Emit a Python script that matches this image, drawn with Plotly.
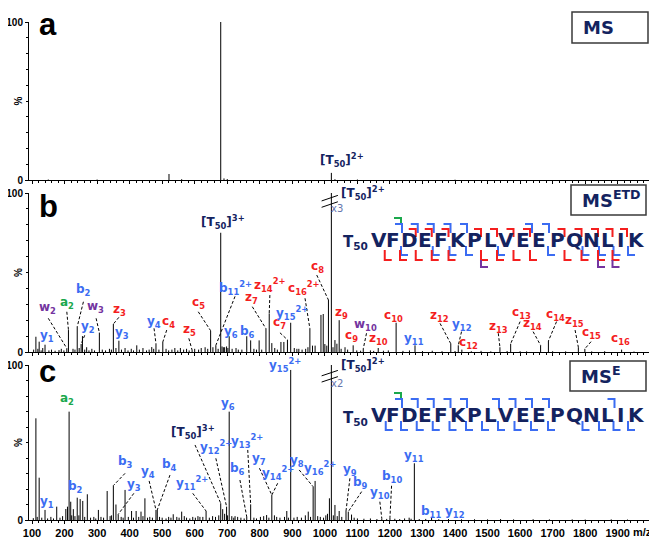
import plotly.graph_objects as go

# ================= DATA =================
# panel a (MS)
a_mz = [150, 300, 521, 560, 680, 690, 700, 1020, 1031, 1100, 1400]
a_int = [0.3, 0.3, 3.8, 0.5, 100, 1.0, 0.6, 4.5, 0.5, 0.3, 0.2]

# panel b (MS-ETD)
b_mz = [112, 122, 140, 207, 212, 239, 251, 255, 268, 307, 350, 367, 386, 422, 468, 481, 502, 539, 575, 592,
        632, 649, 665, 680, 688, 698, 706, 727, 760, 772, 798, 819, 829, 837, 865, 874, 885, 895, 914, 954,
        962, 970, 988, 995, 1011, 1020, 1031, 1037, 1044, 1062, 1087, 1118, 1164, 1219, 1277, 1387, 1410, 1421, 1538, 1571,
        1663, 1687, 1779, 1799, 1912]
b_int = [9.6, 6.5, 4.6, 2.3, 13.8, 15.9, 5, 10, 3, 12.2, 17.6, 7.1, 2.5, 4.2, 3.1, 5.2, 6.3, 2.5, 2, 1.2,
         3, 13.4, 4.2, 75, 3, 3.5, 9.9, 2.5, 9.9, 7.3, 7.3, 14.7, 24.3, 5.6, 6.3, 6.3, 7.7, 18.4, 2, 14.7,
         4, 4, 23.3, 23.9, 32.7, 100, 7.5, 5.2, 20, 3, 4.2, 2, 2.5, 18.4, 4.2, 5.2, 4.2, 1.5, 3, 5.2,
         4.2, 6.9, 3, 2, 1.5]
b_noise_mz = [105, 118, 128, 133, 152, 160, 171, 183, 190, 198, 226, 232, 245, 262, 275, 284, 292, 316, 326, 338,
              344, 358, 375, 395, 405, 412, 430, 441, 452, 460, 474, 490, 512, 520, 530, 548, 556, 566, 583, 600,
              612, 620, 640, 656, 672, 684, 692, 702, 715, 734, 745, 782, 790, 806, 846, 854, 906, 920, 930, 941,
              948, 1000, 1006, 1025, 1050, 1070, 1098, 1110, 1140, 1150, 1180, 1195, 1240, 1260, 1300, 1330, 1360, 1400, 1450, 1480,
              1510, 1560, 1600, 1620, 1700, 1740, 1820, 1860, 1950]
b_noise_int = [1.5, 2, 1, 2.5, 1, 1.5, 0.8, 1.2, 2, 1, 2, 1.5, 2.5, 1.5, 1, 2, 1, 1.5, 1, 2,
               1.5, 2.5, 1.5, 1, 2, 1, 1.5, 2.5, 1, 1.5, 2, 1.5, 2, 1, 1.5, 1, 2.5, 1.5, 1, 2,
               1.5, 2.5, 2, 3, 2, 3.5, 3, 2.5, 2, 1.5, 1.5, 2, 1.5, 1.5, 2.5, 1.5, 2.5, 2, 1.5, 2,
               3, 5, 4, 3, 2, 1.5, 1, 0.8, 1, 0.7, 0.8, 1, 0.7, 1, 0.6, 0.8, 0.5, 0.6, 0.5, 0.7,
               0.4, 0.6, 0.5, 0.4, 0.5, 0.4, 0.4, 0.5, 0.3]

# panel c (MS-E)
c_mz = [112, 122, 140, 176, 204, 209, 214, 219, 227, 239, 248, 256, 270, 304, 331, 350, 358, 365, 386, 406,
        420, 435, 447, 481, 485, 534, 560, 616, 635, 680, 686, 698, 706, 714, 724, 760, 772, 821, 837, 883,
        895, 949, 964, 970, 1014, 1020, 1031, 1044, 1065, 1072, 1082, 1175, 1200, 1259, 1275, 1328]
c_int = [65.6, 27.3, 6.5, 8.6, 7.1, 8.6, 69.9, 11.8, 7, 14.4, 13.5, 12.3, 16.6, 6.5, 18.7, 22.2, 10, 3.7, 19.4, 5.8,
         5.8, 5.4, 14, 6.5, 6.5, 3.7, 5.4, 2, 5.8, 10.8, 7, 8.6, 69.9, 2.5, 2.5, 2, 10.1, 3.2, 16.1, 5.8,
         96.8, 5.4, 21.5, 25.2, 14, 100, 9.7, 5.8, 5.8, 5.4, 3.5, 1, 1.5, 1.5, 36.6, 2]
c_noise_mz = [104, 116, 130, 148, 158, 166, 186, 194, 222, 232, 244, 262, 280, 290, 296, 312, 320, 340, 344, 374,
              380, 396, 412, 428, 441, 455, 462, 470, 492, 500, 512, 520, 527, 545, 552, 568, 575, 585, 594, 602,
              610, 625, 645, 655, 664, 674, 692, 701, 720, 732, 742, 752, 782, 790, 802, 812, 828, 845, 852, 862,
              876, 888, 905, 915, 928, 940, 956, 978, 986, 996, 1003, 1008, 1026, 1038, 1052, 1090, 1100, 1120, 1140, 1160,
              1190, 1215, 1230, 1245, 1265, 1290, 1310, 1350, 1380, 1420, 1460, 1500, 1540, 1580, 1640, 1690, 1760, 1800, 1880, 1930]
c_noise_int = [1.2, 2, 1.5, 1, 2, 1, 1.5, 2.5, 3, 2.5, 3, 2, 1.5, 2, 1, 2, 1.5, 2.5, 3, 2,
               1.5, 2, 1.5, 2, 2.5, 1.5, 2, 1.5, 2, 1.5, 1, 2, 1.5, 2, 1.5, 2.5, 1.5, 1, 2, 1.5,
               2.5, 2, 1.5, 2.5, 2, 3, 4, 3, 1.5, 2, 1.5, 1, 1.5, 1, 2, 2.5, 1.5, 3, 2, 1.5,
               2, 1.5, 1.5, 2, 1.5, 3, 2, 2.5, 2, 1.5, 3, 4, 3, 2.5, 2, 1.5, 1, 0.8, 1, 0.6,
               0.7, 0.8, 0.6, 1, 0.8, 0.6, 0.7, 0.5, 0.6, 0.4, 0.5, 0.4, 0.6, 0.4, 0.5, 0.4, 0.4, 0.3, 0.4, 0.3]

# peak labels: (text, colour key, label m/z, label %, leader start m/z, leader start %, labelled peak m/z)
a_labels = [
    ("[T<sub>50</sub>]<sup>2+</sup>", "N", 1053, 12.7, None, None, None),
]
a_label_left = [("[T<sub>50</sub>]<sup>3+</sup>", "N", 689, 102.5)]

b_labels = [
    ("y<sub>1</sub>", "B", 145, 10.1, None, None, None),
    ("w<sub>2</sub>", "P", 148, 27.5, 150, 21.2, 207),
    ("a<sub>2</sub>", "G", 207, 30.6, 207, 25.3, 212),
    ("b<sub>2</sub>", "B", 258, 39, 258, 31.6, 239),
    ("y<sub>2</sub>", "B", 271, 15.9, 262, 10.5, 251),
    ("w<sub>3</sub>", "P", 294, 28.5, 297, 21.2, 307),
    ("z<sub>3</sub>", "R", 368, 26.4, 367, 21.8, 350),
    ("y<sub>3</sub>", "B", 377, 11.8, None, None, None),
    ("y<sub>4</sub>", "B", 476, 19.1, 475, 14.9, 481),
    ("c<sub>4</sub>", "R", 519, 19.1, 514, 13.8, 502),
    ("z<sub>5</sub>", "R", 583, 13.8, 582, 8.6, 592),
    ("c<sub>5</sub>", "R", 613, 30.6, 611, 25.3, 649),
    ("[T<sub>50</sub>]<sup>3+</sup>", "N", 686, 81.6, None, None, None),
    ("b<sub>11</sub><sup>2+</sup>", "B", 724, 40, 724, 35, 665),
    ("y<sub>6</sub>", "B", 711, 12.8, None, None, None),
    ("b<sub>6</sub>", "B", 762, 12.8, None, None, None),
    ("z<sub>7</sub>", "R", 775, 33.8, 777, 28.5, 819),
    ("z<sub>14</sub><sup>2+</sup>", "R", 831, 42.1, 831, 35.8, 829),
    ("c<sub>7</sub>", "R", 862, 18, 862, 12.1, 885),
    ("y<sub>15</sub><sup>2+</sup>", "B", 898, 24.7, None, None, None),
    ("c<sub>16</sub><sup>2+</sup>", "R", 936, 40, 939, 33.8, 954),
    ("c<sub>8</sub>", "R", 977, 53.6, 975, 48.4, 1011),
    ("[T<sub>50</sub>]<sup>2+</sup>", "N", 1118, 99.8, None, None, None),
    ("z<sub>9</sub>", "R", 1052, 24.3, None, None, None),
    ("c<sub>9</sub>", "R", 1082, 10.1, None, None, None),
    ("w<sub>10</sub>", "P", 1126, 17, 1128, 11.8, 1118),
    ("z<sub>10</sub>", "R", 1164, 8.2, None, None, None),
    ("c<sub>10</sub>", "R", 1210, 22.6, None, None, None),
    ("y<sub>11</sub>", "B", 1275, 8, None, None, None),
    ("z<sub>12</sub>", "R", 1352, 22.6, 1354, 18, 1387),
    ("y<sub>12</sub>", "B", 1420, 17, 1420, 12.8, 1410),
    ("c<sub>12</sub>", "R", 1441, 5.8, None, None, None),
    ("z<sub>13</sub>", "R", 1533, 15.9, 1533, 11.8, 1538),
    ("c<sub>13</sub>", "R", 1603, 24.7, 1600, 19.1, 1571),
    ("z<sub>14</sub>", "R", 1639, 17.6, 1640, 12.8, 1663),
    ("c<sub>14</sub>", "R", 1710, 23.3, 1712, 19.1, 1687),
    ("z<sub>15</sub>", "R", 1766, 19.7, 1769, 13.8, 1779),
    ("c<sub>15</sub>", "R", 1818, 11.8, 1818, 6.5, 1799),
    ("c<sub>16</sub>", "R", 1907, 8, None, None, None),
]

c_labels = [
    ("y<sub>1</sub>", "B", 145, 11.8, None, None, None),
    ("a<sub>2</sub>", "G", 207, 77.9, None, None, None),
    ("b<sub>2</sub>", "B", 235, 21.1, None, None, None),
    ("b<sub>3</sub>", "B", 386, 37.2, 386, 30.1, 350),
    ("y<sub>3</sub>", "B", 414, 22.6, 413, 17.2, 365),
    ("y<sub>4</sub>", "B", 457, 30.8, 460, 25.2, 481),
    ("b<sub>4</sub>", "B", 522, 35.5, 524, 29, 485),
    ("y<sub>11</sub><sup>2+</sup>", "B", 591, 23.7, 594, 17.2, 635),
    ("[T<sub>50</sub>]<sup>3+</sup>", "N", 596, 57, 601, 48.4, 680),
    ("y<sub>12</sub><sup>2+</sup>", "B", 665, 47.3, 665, 39.8, 698),
    ("y<sub>6</sub>", "B", 703, 74.8, None, None, None),
    ("b<sub>6</sub>", "B", 733, 32.9, 739, 25.8, 760),
    ("y<sub>13</sub><sup>2+</sup>", "B", 762, 51, 763, 45.2, 772),
    ("y<sub>7</sub>", "B", 799, 39.4, 799, 33.4, 837),
    ("y<sub>14</sub><sup>2+</sup>", "B", 855, 30.1, 855, 23.7, 837),
    ("y<sub>15</sub><sup>2+</sup>", "B", 877, 100, None, None, None),
    ("y<sub>8</sub>", "B", 913, 38, 921, 32.3, 964),
    ("y<sub>16</sub><sup>2+</sup>", "B", 985, 33.4, None, None, None),
    ("[T<sub>50</sub>]<sup>2+</sup>", "N", 1118, 100, None, None, None),
    ("y<sub>9</sub>", "B", 1077, 32.3, 1077, 26.9, 1065),
    ("b<sub>9</sub>", "B", 1108, 23.7, 1113, 18.3, 1072),
    ("y<sub>10</sub>", "B", 1169, 17.6, 1169, 11.8, 1175),
    ("b<sub>10</sub>", "B", 1205, 27.9, 1205, 22.1, 1200),
    ("y<sub>11</sub>", "B", 1275, 41.5, None, None, None),
    ("b<sub>11</sub>", "B", 1326, 5.4, None, None, None),
    ("y<sub>12</sub>", "B", 1400, 5.4, None, None, None),
]

# scale factor notes next to the clipped precursor peaks
scale_notes = [("x3", "y2", 1038, 90.4), ("x2", "y3", 1038, 88.2)]

panel_letters = ["a", "b", "c"]
box_titles = ["MS", "MS<sup>ETD</sup>", "MS<sup>E</sup>"]
x_ticks = [100, 200, 300, 400, 500, 600, 700, 800, 900, 1000, 1100, 1200, 1300, 1400, 1500, 1600, 1700, 1800, 1900]

sequence = "VFDEFKPLVEEPQNLIK"
# observed cleavage sites (after residue n) for the sequence maps
b_green_top = [2]
b_blue_top = [2, 3, 4, 5, 6, 10, 11]
b_red_top = [3, 4, 5, 7, 8, 9, 10, 12, 13, 14, 15, 16]
b_blue_bot = [2, 4, 5, 6, 8, 11, 13, 14, 15, 16]
b_red_bot = [1, 2, 3, 4, 5, 7, 8, 9, 10, 12, 13, 14, 15]
b_purple_bot = [7, 14, 15]
c_green_top = [2]
c_blue_top = [2, 3, 4, 5, 6, 8, 9, 10, 11, 15]
c_blue_bot = [1, 2, 3, 4, 5, 6, 7, 8, 9, 10, 11, 13, 14, 15, 16]

# ================= STYLE / LAYOUT =================
NAVY = "#14235f"
COL = {"B": "#3b6cf2", "R": "#f41e1e", "G": "#1aa84c", "P": "#7434a0", "N": NAVY}
XNOTE = "#6575ad"
LABEL_FONT = "DejaVu Sans"
AX_FONT = "Liberation Sans"

# the page body adds an 8 px margin, so the figure is made 8 px smaller and everything shifts by it
PAGE_OFF = 8
W, H = 657, 537                                   # target window size
FW, FH = W - PAGE_OFF, H - PAGE_OFF               # figure size
PL, PR, PT, PB = 29, 649, 22, 520                 # plot-area edges in window pixels
PW, PH = PR - PL, PB - PT
PX100, PXPER = 32.0, 0.3254                       # pixel of m/z 100 and pixels per m/z unit
XR = [100 + (PL - PX100) / PXPER, 100 + (PR - PX100) / PXPER]


def fx(px):
    return (px - PL) / PW


def fy(py):
    return (PB - py) / PH


dom_a = [fy(180), fy(22)]
dom_b = [fy(352), fy(193)]
dom_c = [0, fy(365)]


def sticks(mz, it):
    xs, ys = [], []
    for m, v in zip(mz, it):
        xs += [m, m, None]
        ys += [0, v, None]
    return xs, ys


fig = go.Figure()
for (mz, it), xa, ya in [((a_mz, a_int), "x", "y"),
                         ((b_noise_mz, b_noise_int), "x2", "y2"), ((b_mz, b_int), "x2", "y2"),
                         ((c_noise_mz, c_noise_int), "x3", "y3"), ((c_mz, c_int), "x3", "y3")]:
    xs, ys = sticks(mz, it)
    fig.add_trace(go.Scatter(x=xs, y=ys, mode="lines", line=dict(color="black", width=1),
                             xaxis=xa, yaxis=ya, hoverinfo="skip", showlegend=False, cliponaxis=True))

xcommon = dict(range=XR, showline=True, linecolor="black", linewidth=1, ticks="outside", ticklen=3,
               tickcolor="black", tickmode="linear", tick0=100, dtick=100, showgrid=False, zeroline=False,
               automargin=False,
               minor=dict(ticks="outside", ticklen=2, dtick=20, tick0=100, tickcolor="black", showgrid=False))
ycommon = dict(range=[0, 100], showline=True, linecolor="black", linewidth=1, ticks="outside", ticklen=3,
               tickcolor="black", tickmode="linear", tick0=0, dtick=100, showgrid=False, zeroline=False,
               automargin=False,
               tickfont=dict(family=AX_FONT, size=10, color="black", weight="bold"),
               minor=dict(ticks="outside", ticklen=2, dtick=10, tickcolor="black", showgrid=False))

fig.update_layout(
    width=FW, height=FH,
    margin=dict(l=PL - PAGE_OFF, r=W - PR, t=PT - PAGE_OFF, b=H - PB, autoexpand=False),
    paper_bgcolor="white", plot_bgcolor="white",
    xaxis=dict(xcommon, anchor="y", showticklabels=False),
    xaxis2=dict(xcommon, anchor="y2", showticklabels=False, matches="x"),
    xaxis3=dict(xcommon, anchor="y3", matches="x", tickvals=x_ticks, ticktext=[str(t) for t in x_ticks],
                tickmode="array", tickfont=dict(family=AX_FONT, size=11, color="black", weight="bold")),
    yaxis=dict(ycommon, domain=dom_a, anchor="x"),
    yaxis2=dict(ycommon, domain=dom_b, anchor="x2"),
    yaxis3=dict(ycommon, domain=dom_c, anchor="x3"),
    showlegend=False,
)

ann = []
shapes = []


def lbl_font(color, size=12):
    return dict(family=LABEL_FONT, size=size, color=color, weight="bold")


def add_labels(labels, mz, it, xa, ya):
    lookup = dict(zip(mz, it))
    for text, ck, lx, ly, sx, sy, pk in labels:
        ann.append(dict(text=text, x=lx, y=ly, xref=xa, yref=ya, showarrow=False,
                        xanchor="center", yanchor="middle", font=lbl_font(COL[ck])))
        if pk is not None:
            shapes.append(dict(type="line", xref=xa, yref=ya, x0=sx, y0=sy, x1=pk, y1=lookup[pk],
                               line=dict(color="black", width=1, dash="3px,2px")))


add_labels(a_labels, a_mz, a_int, "x", "y")
for text, ck, lx, ly in a_label_left:
    ann.append(dict(text=text, x=lx, y=ly, xref="x", yref="y", showarrow=False,
                    xanchor="left", yanchor="middle", font=lbl_font(COL[ck])))
add_labels(b_labels, b_mz + b_noise_mz, b_int + b_noise_int, "x2", "y2")
add_labels(c_labels, c_mz + c_noise_mz, c_int + c_noise_int, "x3", "y3")

for text, ya, lx, ly in scale_notes:
    ann.append(dict(text=text, x=lx, y=ly, xref=ya.replace("y", "x"), yref=ya, showarrow=False,
                    xanchor="center", yanchor="middle",
                    font=dict(family=LABEL_FONT, size=10, color=XNOTE)))

# axis-break marks on the clipped precursor peaks
for xa, ya, lo in [("x2", "y2", 91.0), ("x3", "y3", 89.0)]:
    for k in (0, 4):
        shapes.append(dict(type="line", xref=xa, yref=ya, x0=990, y0=lo + k, x1=1040, y1=lo + k + 3.5,
                           line=dict(color="black", width=1)))

# panel letters, % titles, boxes
letter_cy = [24.6, 206.3, 371.3]
pct_cy = [101, 272.5, 442.5]
box_px = [(572, 12, 648, 43), (571, 185, 646, 215), (570, 361, 646, 391)]
for i in range(3):
    ann.append(dict(text=panel_letters[i], x=fx(37), y=fy(letter_cy[i]), xref="paper", yref="paper",
                    showarrow=False, xanchor="left", yanchor="middle",
                    font=dict(family=AX_FONT, size=31, color="black", weight="bold")))
    ann.append(dict(text="%", x=fx(18.5), y=fy(pct_cy[i]), xref="paper", yref="paper", showarrow=False,
                    textangle=-90, xanchor="center", yanchor="middle",
                    font=dict(family=AX_FONT, size=10, color="black", weight="bold")))
    x0, y0, x1, y1 = box_px[i]
    shapes.append(dict(type="rect", xref="paper", yref="paper", x0=fx(x0), y0=fy(y1), x1=fx(x1), y1=fy(y0),
                       line=dict(color="#3a3a3a", width=1.5), fillcolor="white", layer="above"))
    ann.append(dict(text=box_titles[i], x=fx(x0 + 9), y=fy((y0 + y1) / 2 + (0 if i == 0 else -1)),
                    xref="paper", yref="paper", showarrow=False, xanchor="left", yanchor="middle",
                    font=dict(family=LABEL_FONT, size=18, color=NAVY, weight="bold")))

ann.append(dict(text="m/z", x=fx(642.5), y=fy(532), xref="paper", yref="paper", showarrow=False,
                xanchor="center", yanchor="middle",
                font=dict(family=AX_FONT, size=11, color="black", weight="bold")))

# sequence maps
letter_px = [378.5, 393, 409, 424.5, 441, 458, 474, 490, 506, 523, 539, 557, 574, 591, 607, 620, 636]
gap_px = [(letter_px[i] + letter_px[i + 1]) / 2 for i in range(len(letter_px) - 1)]


def seg(points, color):
    path = "M " + " L ".join(f"{fx(px):.5f},{fy(py):.5f}" for px, py in points)
    shapes.append(dict(type="path", xref="paper", yref="paper", path=path,
                       line=dict(color=color, width=2)))


def draw_sequence(dy, green_top, blue_top, red_top, blue_bot, red_bot, purple_bot):
    for ch, px in zip(sequence, letter_px):
        ann.append(dict(text=ch, x=fx(px), y=fy(240.1 + dy), xref="paper", yref="paper", showarrow=False,
                        xanchor="center", yanchor="middle",
                        font=dict(family=LABEL_FONT, size=20, color=NAVY, weight="bold")))
    ann.append(dict(text="T<sub>50</sub>", x=fx(355), y=fy(243 + dy), xref="paper", yref="paper",
                    showarrow=False, xanchor="center", yanchor="middle",
                    font=dict(family=LABEL_FONT, size=15, color=NAVY, weight="bold")))
    for n in green_top:
        g = gap_px[n - 1]
        seg([(g - 7, 218 + dy), (g, 218 + dy), (g, 224 + dy)], COL["G"])
    for n in blue_top:
        g = gap_px[n - 1] + 1
        seg([(g - 7, 224 + dy), (g, 224 + dy), (g, 233 + dy)], COL["B"])
    for n in red_top:
        g = gap_px[n - 1] - 1
        seg([(g - 7, 229 + dy), (g, 229 + dy), (g, 237 + dy)], COL["R"])
    for n in blue_bot:
        g = gap_px[n - 1]
        seg([(g, 246 + dy), (g, 255 + dy), (g + 7, 255 + dy)], COL["B"])
    for n in red_bot:
        g = gap_px[n - 1] - 1
        seg([(g, 250 + dy), (g, 260 + dy), (g + 7, 260 + dy)], COL["R"])
    for n in purple_bot:
        g = gap_px[n - 1] - 1
        seg([(g, 260 + dy), (g, 267 + dy), (g + 7, 267 + dy)], COL["P"])


draw_sequence(0, b_green_top, b_blue_top, b_red_top, b_blue_bot, b_red_bot, b_purple_bot)
draw_sequence(175, c_green_top, c_blue_top, [], c_blue_bot, [], [])

fig.update_layout(annotations=ann, shapes=shapes)
fig.write_html("out.html")
